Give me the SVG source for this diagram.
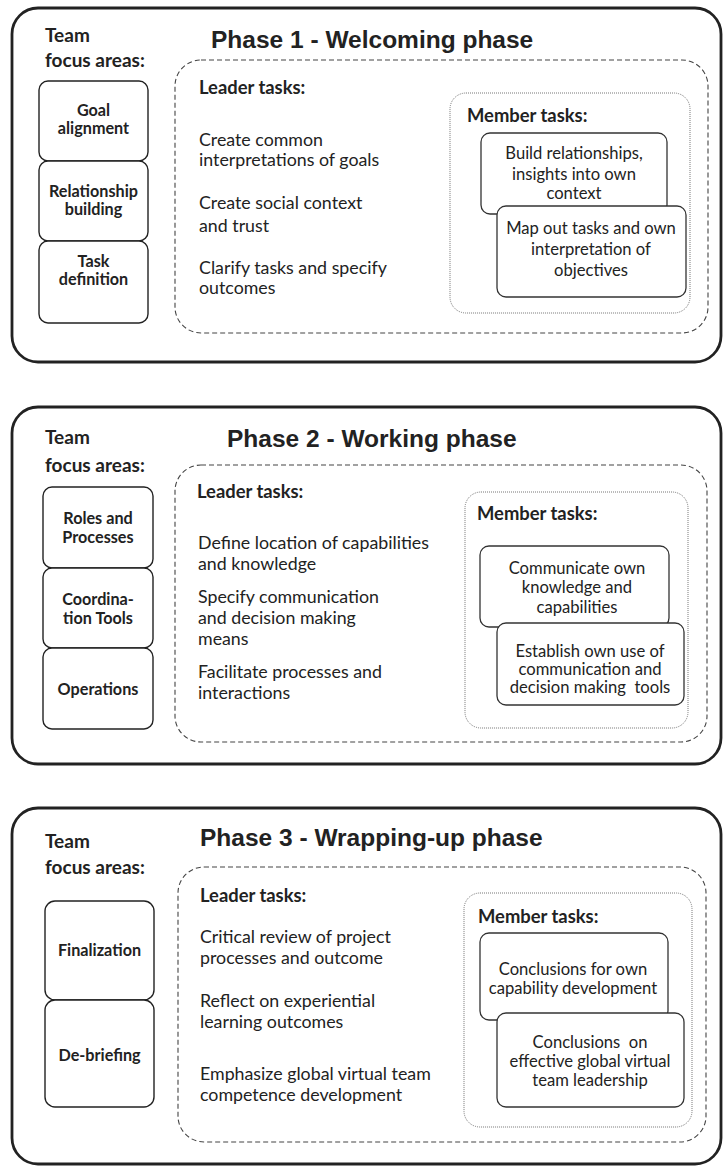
<svg xmlns="http://www.w3.org/2000/svg" width="723" height="1168" viewBox="0 0 723 1168">
<style>
text{fill:#222;font-family:Lato,"Open Sans","Liberation Sans",sans-serif}
.outer{fill:#fff;stroke:#222;stroke-width:2.8}
.focus{fill:#fff;stroke:#222;stroke-width:1.4}
.leader{fill:none;stroke:#444;stroke-width:1.1;stroke-dasharray:5 3}
.member{fill:none;stroke:#777;stroke-width:1;stroke-dasharray:1 1}
.mbox{fill:#fff;stroke:#333;stroke-width:1.3}
.title{font-family:"Liberation Sans",Arial,sans-serif;font-weight:bold;font-size:24.5px}
.head{font-weight:bold;font-size:19px}
.lead{font-weight:bold;font-size:18.4px}
.fl{font-weight:bold;font-size:16.2px;text-anchor:middle}
.body{font-size:17.8px}
.mt{font-size:16.6px;text-anchor:middle}
</style>
<rect width="723" height="1168" fill="#fff"/>

<!-- Phase 1 -->
<g id="phase1">
<rect class="outer" x="12" y="8" width="709" height="354" rx="26"/>
<text class="title" x="211" y="48">Phase 1 - Welcoming phase</text>
<text class="head" x="45" y="42">Team</text>
<text class="head" x="45" y="67">focus areas:</text>
</g>
<g id="p1-goal"><rect class="focus" x="39" y="81" width="109" height="80" rx="9"/>
<text class="fl" x="93.5" y="116">Goal</text><text class="fl" x="93.5" y="134">alignment</text></g>
<g id="p1-relationship"><rect class="focus" x="39" y="161" width="109" height="80" rx="9"/>
<text class="fl" x="93.5" y="197">Relationship</text><text class="fl" x="93.5" y="215">building</text></g>
<g id="p1-task"><rect class="focus" x="39" y="241" width="109" height="82" rx="9"/>
<text class="fl" x="93.5" y="267">Task</text><text class="fl" x="93.5" y="285">definition</text></g>
<g id="p1-leader">
<rect class="leader" x="175" y="60" width="533" height="273" rx="26"/>
<text class="lead" x="199" y="94">Leader tasks:</text>
<text class="body" x="199" y="146">Create common</text>
<text class="body" x="199" y="166">interpretations of goals</text>
<text class="body" x="199" y="209">Create social context</text>
<text class="body" x="199" y="232">and trust</text>
<text class="body" x="199" y="274">Clarify tasks and specify</text>
<text class="body" x="199" y="294">outcomes</text>
</g>
<g id="p1-member">
<rect class="member" x="450" y="93" width="240" height="220" rx="16"/>
<text class="lead" x="467" y="122">Member tasks:</text>
</g>
<g id="p1-m1"><rect class="mbox" x="481" y="133" width="186" height="81" rx="9"/>
<text class="mt" x="574" y="159">Build relationships,</text>
<text class="mt" x="574" y="180">insights into own</text>
<text class="mt" x="574" y="199">context</text></g>
<g id="p1-m2"><rect class="mbox" x="497" y="206" width="189" height="91" rx="9"/>
<text class="mt" x="591" y="234">Map out tasks and own</text>
<text class="mt" x="591" y="255">interpretation of</text>
<text class="mt" x="591" y="276">objectives</text></g>

<!-- Phase 2 -->
<g id="phase2">
<rect class="outer" x="12" y="407" width="709" height="357" rx="26"/>
<text class="title" x="227" y="447">Phase 2 - Working phase</text>
<text class="head" x="45" y="444">Team</text>
<text class="head" x="45" y="472">focus areas:</text>
</g>
<g id="p2-roles"><rect class="focus" x="43" y="487" width="110" height="81" rx="9"/>
<text class="fl" x="98" y="524">Roles and</text><text class="fl" x="98" y="543">Processes</text></g>
<g id="p2-coord"><rect class="focus" x="43" y="568" width="110" height="80" rx="9"/>
<text class="fl" x="98" y="605">Coordina-</text><text class="fl" x="98" y="624">tion Tools</text></g>
<g id="p2-ops"><rect class="focus" x="43" y="648" width="110" height="81" rx="9"/>
<text class="fl" x="98" y="695">Operations</text></g>
<g id="p2-leader">
<rect class="leader" x="175" y="465" width="532" height="277" rx="26"/>
<text class="lead" x="197" y="498">Leader tasks:</text>
<text class="body" x="198" y="549">Define location of capabilities</text>
<text class="body" x="198" y="570">and knowledge</text>
<text class="body" x="198" y="603">Specify communication</text>
<text class="body" x="198" y="624">and decision making</text>
<text class="body" x="198" y="645">means</text>
<text class="body" x="198" y="678">Facilitate processes and</text>
<text class="body" x="198" y="699">interactions</text>
</g>
<g id="p2-member">
<rect class="member" x="465" y="492" width="223" height="236" rx="16"/>
<text class="lead" x="477" y="520">Member tasks:</text>
</g>
<g id="p2-m1"><rect class="mbox" x="480" y="546" width="189" height="81" rx="9"/>
<text class="mt" x="577" y="574">Communicate own</text>
<text class="mt" x="577" y="593">knowledge and</text>
<text class="mt" x="577" y="613">capabilities</text></g>
<g id="p2-m2"><rect class="mbox" x="497" y="623" width="187" height="82" rx="9"/>
<text class="mt" x="590" y="657">Establish own use of</text>
<text class="mt" x="590" y="675">communication and</text>
<text class="mt" x="590" y="693" xml:space="preserve">decision making  tools</text></g>

<!-- Phase 3 -->
<g id="phase3">
<rect class="outer" x="12" y="808" width="709" height="356" rx="26"/>
<text class="title" x="200" y="846">Phase 3 - Wrapping-up phase</text>
<text class="head" x="45" y="848">Team</text>
<text class="head" x="45" y="874">focus areas:</text>
</g>
<g id="p3-final"><rect class="focus" x="45" y="901" width="109" height="99" rx="10"/>
<text class="fl" x="99.5" y="956">Finalization</text></g>
<g id="p3-debrief"><rect class="focus" x="45" y="1000" width="109" height="107" rx="10"/>
<text class="fl" x="99.5" y="1061">De-briefing</text></g>
<g id="p3-leader">
<rect class="leader" x="178" y="867" width="528" height="275" rx="26"/>
<text class="lead" x="200" y="902">Leader tasks:</text>
<text class="body" x="200" y="943">Critical review of project</text>
<text class="body" x="200" y="964">processes and outcome</text>
<text class="body" x="200" y="1007">Reflect on experiential</text>
<text class="body" x="200" y="1028">learning outcomes</text>
<text class="body" x="200" y="1080">Emphasize global virtual team</text>
<text class="body" x="200" y="1101">competence development</text>
</g>
<g id="p3-member">
<rect class="member" x="464" y="893" width="228" height="234" rx="16"/>
<text class="lead" x="478" y="923">Member tasks:</text>
</g>
<g id="p3-m1"><rect class="mbox" x="480" y="933" width="188" height="87" rx="9"/>
<text class="mt" x="573" y="975">Conclusions for own</text>
<text class="mt" x="573" y="994">capability development</text></g>
<g id="p3-m2"><rect class="mbox" x="497" y="1013" width="187" height="94" rx="9"/>
<text class="mt" x="590" y="1048" xml:space="preserve">Conclusions  on</text>
<text class="mt" x="590" y="1067">effective global virtual</text>
<text class="mt" x="590" y="1086">team leadership</text></g>
</svg>
